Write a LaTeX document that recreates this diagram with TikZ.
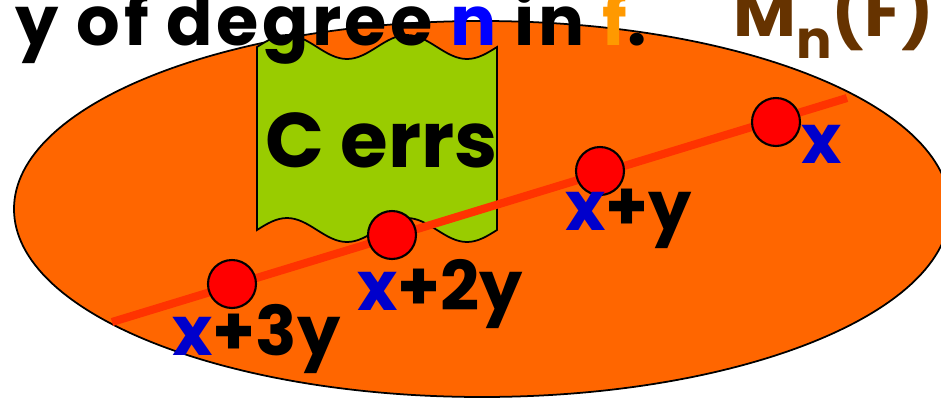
\documentclass[tikz,border=0pt]{standalone}
\usepackage{fontspec}
\setmainfont{Poppins}
\definecolor{ovalorange}{HTML}{FF6600}
\definecolor{flaggreen}{HTML}{99CC00}
\definecolor{linered}{HTML}{FF3300}
\definecolor{dotred}{HTML}{FF0000}
\definecolor{xblue}{HTML}{0000CC}
\definecolor{nblue}{HTML}{0000FF}
\definecolor{forange}{HTML}{FF9900}
\definecolor{mbrown}{HTML}{663300}
\begin{document}
\begin{tikzpicture}[
    x=0.02cm, y=-0.02cm,
    point/.style={circle, draw=black, line width=1.2pt, fill=dotred, minimum size=0.96cm, inner sep=0pt},
    lbl/.style={anchor=base west, inner sep=0pt, font=\bfseries\fontsize{39}{41}\selectfont},
    title/.style={anchor=base east, inner sep=0pt, font=\bfseries\fontsize{39}{41}\selectfont}
]
    \useasboundingbox (0,0) rectangle (941,400);
    \clip (0,0) rectangle (941,400);

    % Space
    \draw [fill=ovalorange, line width=1pt] (482,209) ellipse [x radius=468, y radius=188];

    % Flag
    \draw [fill=flaggreen, line width=1pt]
        (257,47) sin (287,35) cos (317,47) sin (347,59) cos (377,47)
        sin (407,35) cos (437,47) sin (467,59) cos (497,47) -- (497,230)
        sin (467,242) cos (437,230) sin (407,218) cos (377,230)
        sin (347,242) cos (317,230) sin (287,218) cos (257,230) -- cycle;
    \node (cerrs) [anchor=base west, inner sep=0pt, font=\bfseries\fontsize{44}{46}\selectfont] at (265,167) {C errs};

    % Line
    \coordinate (lstart) at (112,322);
    \coordinate (lend) at (847,98);
    \draw [linered, line width=4.6pt] (lstart) -- (lend);

    % Points
    \node (p3) [point] at (232,284) {};
    \node (p2) [point] at (392,235) {};
    \node (p1) [point] at (600,171) {};
    \node (p0) [point] at (776,122) {};

    \node (l3) [lbl] at (172,355) {\textcolor{xblue}{x}+3y};
    \node (l2) [lbl] at (357,310) {\textcolor{xblue}{x}+2y};
    \node (l1) [lbl] at (565,230) {\textcolor{xblue}{x}+y};
    \node (l0) [lbl] at (801,163) {\textcolor{xblue}{x}};

    % Title
    \node (head) [title] at (647,45) {\addfontfeature{LetterSpace=5}y of degree \textcolor{nblue}{n} in \textcolor{forange}{f}.};
    \node (mnf) [title, text=mbrown] at (935,36) {M\raisebox{-0.33em}{\fontsize{30}{32}\selectfont n}(F)};
\end{tikzpicture}
\end{document}
